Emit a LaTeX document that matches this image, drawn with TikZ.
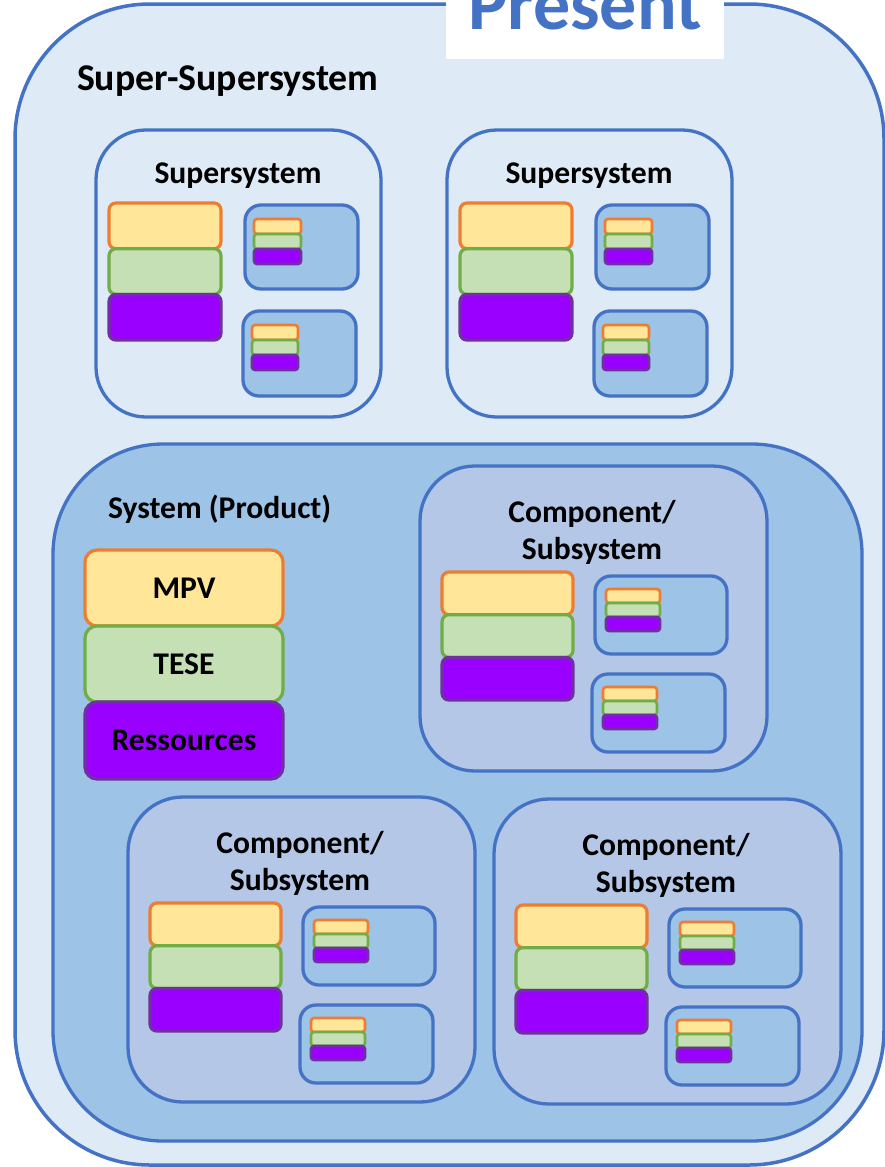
\documentclass[tikz,border=0pt]{standalone}
\usepackage{fontspec}
\setmainfont{Carlito}
\definecolor{edgeblue}{HTML}{4472C4}
\definecolor{paleblue}{HTML}{DEEBF7}
\definecolor{midblue}{HTML}{9DC3E6}
\definecolor{greyblue}{HTML}{B4C7E7}
\definecolor{mpvfill}{HTML}{FFE699}
\definecolor{mpvline}{HTML}{ED7D31}
\definecolor{tesefill}{HTML}{C5E0B4}
\definecolor{teseline}{HTML}{70AD47}
\definecolor{resfill}{HTML}{9900FF}
\definecolor{resline}{HTML}{7030A0}
\tikzset{
  every node/.style={inner sep=0pt, outer sep=0pt},
  frame/.style={draw=edgeblue, line width=3.3pt, anchor=north west},
  cellbox/.style={frame, fill=midblue, rounded corners=16pt},
  layer/.style={anchor=north west},
  mpvlayer/.style={layer, draw=mpvline, fill=mpvfill},
  teselayer/.style={layer, draw=teseline, fill=tesefill},
  reslayer/.style={layer, draw=resline, fill=resfill},
  titlefont/.style={font=\bfseries\fontsize{31.6}{36}\selectfont},
  title/.style={titlefont, anchor=base},
  % three stacked layers: width / layer height / corner radius / line width
  pics/stack/.style args={#1/#2/#3/#4}{code={
    \node[mpvlayer, line width=#4pt, rounded corners=#3pt,
          minimum width=#1pt, minimum height=#2pt] (-mpv) at (0,0) {};
    \node[teselayer, line width=#4pt, rounded corners=#3pt,
          minimum width=#1pt, minimum height=#2pt] (-tese) at (0,#2) {};
    \node[reslayer, line width=#4pt, rounded corners=#3pt,
          minimum width=#1pt, minimum height=#2pt] (-res) at (0,2*#2) {};
  }},
  pics/supersys/.style={code={
    \node[frame, fill=paleblue, rounded corners=50pt,
          minimum width=285pt, minimum height=287pt] (-frame) at (0,0) {};
    \node[title] (-title) at (142,53) {Supersystem};
    \pic (-big) at (13,73) {stack=112/45.7/7/3.2};
    \node[cellbox, minimum width=113pt, minimum height=84pt] (-cellA) at (149,75) {};
    \pic (-miniA) at (158,89) {stack=47/15/3/2.6};
    \node[cellbox, minimum width=113pt, minimum height=85pt] (-cellB) at (147,181) {};
    \pic (-miniB) at (156,195) {stack=46/15/3/2.6};
  }},
  pics/component/.style={code={
    \node[frame, fill=greyblue, rounded corners=55pt,
          minimum width=347pt, minimum height=305pt] (-frame) at (0,0) {};
    \node[title] (-titleA) at (172,56) {Component/};
    \node[title] (-titleB) at (172,93) {Subsystem};
    \pic (-big) at (22,106) {stack=131/42.7/7/3.2};
    \node[cellbox, minimum width=132pt, minimum height=78pt] (-cellA) at (175,110) {};
    \pic (-miniA) at (186,123) {stack=54/14/3/2.6};
    \node[cellbox, minimum width=133pt, minimum height=78pt] (-cellB) at (172,208) {};
    \pic (-miniB) at (183,221) {stack=54/14/3/2.6};
  }}
}
\begin{document}
\begin{tikzpicture}[x=1pt, y=-1pt]
\useasboundingbox (0,0) rectangle (885,1167);

% outermost level
\node[frame, fill=paleblue, line width=3.5pt, rounded corners=135pt,
      minimum width=869pt, minimum height=1161pt] (supersuper) at (15,4) {};
\node[anchor=north west, fill=white, minimum width=278pt, minimum height=59pt] (tag) at (446,0) {};
\node[anchor=base, text=edgeblue, font=\bfseries\fontsize{74}{80}\selectfont] (present) at (585,29) {Present};
\node[anchor=base west, font=\bfseries\fontsize{37.8}{42}\selectfont] (sslabel) at (77,90) {Super-Supersystem};

% supersystems
\pic (ssA) at (96,130) {supersys};
\pic (ssB) at (447,130) {supersys};

% the product itself
\node[frame, fill=midblue, rounded corners=110pt,
      minimum width=809pt, minimum height=697pt] (system) at (53,444) {};
\node[title, anchor=base west] (systitle) at (108,518) {System (Product)};
\node[mpvlayer, titlefont, line width=3.2pt, rounded corners=12pt,
      minimum width=198pt, minimum height=76pt] (mpv) at (85,550) {MPV};
\node[teselayer, titlefont, line width=3.2pt, rounded corners=12pt,
      minimum width=198pt, minimum height=76pt] (tese) at (85,626) {TESE};
\node[reslayer, titlefont, line width=3.2pt, rounded corners=12pt,
      minimum width=198pt, minimum height=77pt] (res) at (85,702) {Ressources};

% components
\pic (compA) at (420,466) {component};
\pic (compB) at (128,797) {component};
\pic (compC) at (494,799) {component};
\end{tikzpicture}
\end{document}
